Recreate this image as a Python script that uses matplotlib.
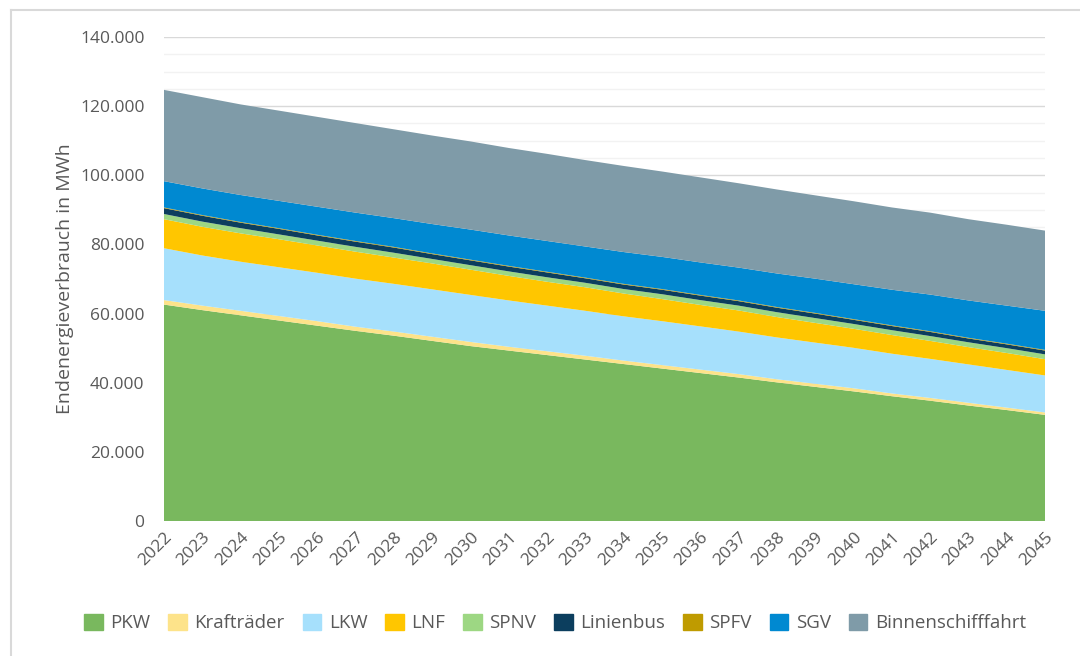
import numpy as np
import matplotlib.pyplot as plt
from matplotlib.ticker import FuncFormatter, MultipleLocator
from matplotlib.patches import Rectangle
from matplotlib.lines import Line2D

plt.rcParams['font.family'] = ['Open Sans', 'DejaVu Sans']

years = list(range(2022, 2046))

# Endenergieverbrauch in MWh
pkw = [62600, 61000, 59500, 58000, 56500, 55000, 53600, 52100, 50600, 49300, 48000, 46700,
       45400, 44100, 42800, 41500, 40100, 38800, 37500, 36100, 34800, 33400, 32100, 30700]
kraftraeder = [1300, 1300, 1300, 1300, 1300, 1200, 1200, 1200, 1200, 1100, 1100, 1100,
               1000, 1000, 1000, 1000, 900, 900, 900, 800, 800, 800, 700, 700]
lkw = [15000, 14500, 14200, 14100, 14000, 13900, 13800, 13700, 13600, 13400, 13200, 13000,
       12800, 12700, 12500, 12300, 12100, 11900, 11700, 11500, 11300, 11100, 10900, 10700]
lnf = [8400, 8300, 8200, 8100, 7900, 7800, 7600, 7500, 7300, 7100, 6900, 6800,
       6600, 6400, 6200, 6100, 5900, 5700, 5500, 5400, 5200, 5000, 4900, 4700]
spnv = [1500, 1500, 1500, 1400, 1400, 1400, 1400, 1300, 1300, 1300, 1300, 1300,
        1300, 1400, 1400, 1400, 1400, 1400, 1400, 1400, 1400, 1400, 1400, 1400]
linienbus = [1700, 1700, 1600, 1600, 1500, 1500, 1500, 1400, 1400, 1400, 1400, 1300,
             1300, 1300, 1300, 1300, 1300, 1300, 1200, 1200, 1200, 1100, 1100, 1100]
spfv = [200, 200, 200, 200, 200, 200, 200, 200, 200, 200, 200, 200,
        200, 200, 200, 200, 200, 200, 200, 200, 200, 200, 200, 200]
sgv = [7600, 7700, 7800, 7900, 8100, 8200, 8300, 8500, 8700, 8800, 8900, 9000,
       9200, 9300, 9400, 9500, 9700, 9900, 10100, 10300, 10600, 10800, 11000, 11300]
binnen = [26400, 26400, 26200, 26100, 26000, 25900, 25700, 25600, 25500, 25300, 25200, 25000,
          24900, 24700, 24600, 24400, 24300, 24100, 24000, 23800, 23700, 23500, 23400, 23200]

labels = ['PKW', 'Krafträder', 'LKW', 'LNF', 'SPNV', 'Linienbus', 'SPFV', 'SGV', 'Binnenschifffahrt']
colors = ['#79B85E', '#FDE38A', '#A6E0FC', '#FFC600', '#9DD783', '#0C3E5E', '#BF9B00', '#0089D1', '#7F9BA8']
series = [pkw, kraftraeder, lkw, lnf, spnv, linienbus, spfv, sgv, binnen]

fig = plt.figure(figsize=(10.8, 6.56), dpi=100)
ax = fig.add_axes([164 / 1080, 1 - 521 / 656, 881 / 1080, 484 / 656])

ax.stackplot(years, *series, colors=colors, labels=labels, linewidth=0, zorder=3)

ax.set_xlim(2022, 2045)
ax.set_ylim(0, 140000)
ax.yaxis.set_major_locator(MultipleLocator(20000))
ax.yaxis.set_minor_locator(MultipleLocator(5000))
ax.grid(which='major', axis='y', color='#D9D9D9', linewidth=1.0, zorder=1)
ax.grid(which='minor', axis='y', color='#F2F2F2', linewidth=1.0, zorder=0)
ax.set_xticks(years)
ax.set_xticklabels([str(y) for y in years], rotation=45, ha='right', rotation_mode='anchor')
ax.yaxis.set_major_formatter(FuncFormatter(lambda v, p: f'{int(v):,}'.replace(',', '.')))
ax.tick_params(axis='both', which='both', length=0, labelsize=12.5, labelcolor='#595959')
ax.tick_params(axis='y', pad=14)
ax.tick_params(axis='x', pad=6)
for s in ax.spines.values():
    s.set_visible(False)

ax.set_ylabel('Endenergieverbrauch in MWh', fontsize=14, color='#595959', labelpad=4)

handles = [Rectangle((0, 0), 1, 1, color=c) for c in colors]
fig.legend(handles, labels, loc='center', bbox_to_anchor=(555 / 1080, 1 - 623 / 656), ncol=9,
           frameon=False, fontsize=13.5, labelcolor='#595959', handlelength=1.0, handleheight=1.0,
           columnspacing=0.95, handletextpad=0.4)

# light frame around the chart
fig.add_artist(Line2D([10.5 / 1080, 1], [1 - 10 / 656, 1 - 10 / 656], color='#D9D9D9', linewidth=1.5))
fig.add_artist(Line2D([10.5 / 1080, 10.5 / 1080], [0, 1 - 10 / 656], color='#D9D9D9', linewidth=1.5))

fig.savefig('out.png', dpi=100)
